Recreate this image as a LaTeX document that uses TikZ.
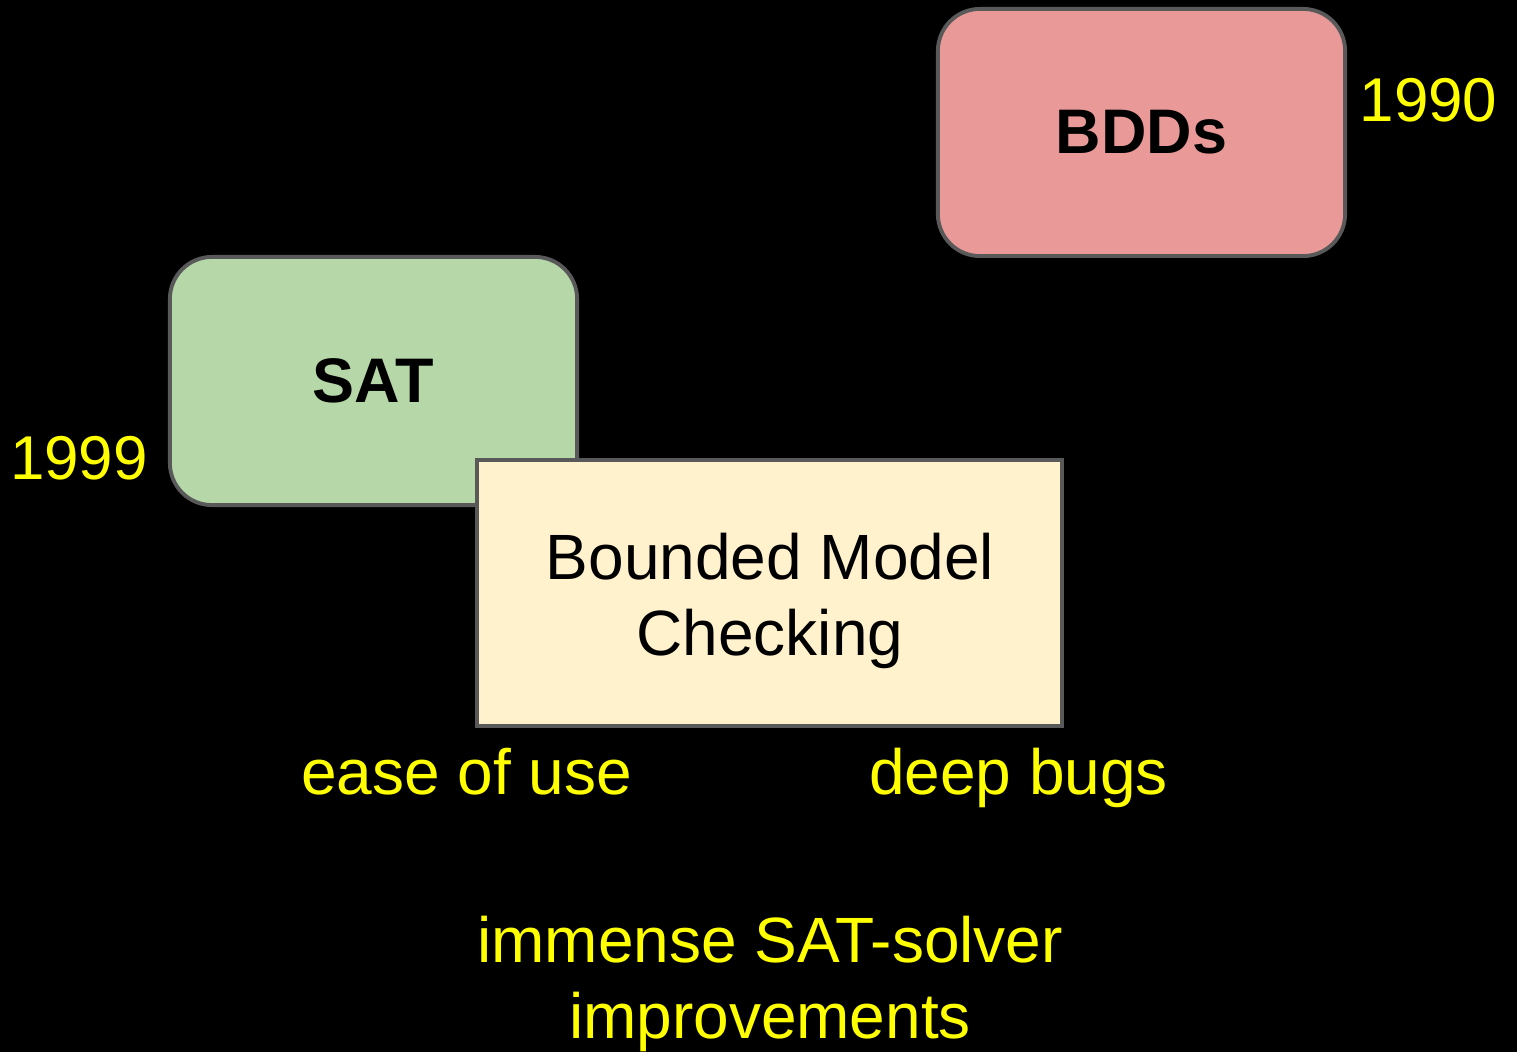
\documentclass[tikz,border=0pt]{standalone}
\usepackage{fontspec}
\setmainfont{Liberation Sans}
\definecolor{edgegray}{HTML}{595959}
\definecolor{bddfill}{HTML}{EA9999}
\definecolor{satfill}{HTML}{B6D7A8}
\definecolor{bmcfill}{HTML}{FFF2CC}
\definecolor{labelyellow}{HTML}{FFFF00}
\begin{document}
\begin{tikzpicture}[x=0.01cm,y=-0.01cm,
  every node/.style={inner sep=0pt,outer sep=0pt,
    font=\fontsize{18.2pt}{21.6pt}\selectfont},
  techbox/.style={draw=edgegray,line width=1.1pt,rounded corners=0.42cm,
    font=\fontsize{17.9pt}{21.6pt}\selectfont\bfseries},
  flatbox/.style={draw=edgegray,line width=1.1pt},
  yeartext/.style={text=labelyellow,font=\fontsize{17.6pt}{21.6pt}\selectfont},
  notetext/.style={text=labelyellow},
  bodytext/.style={text=black,align=center}]
  \fill[black] (0,0) rectangle (1517,1052);
  \useasboundingbox (0,0) rectangle (1517,1052);

  % technique boxes
  \node[techbox,fill=bddfill,minimum width=4.07cm,minimum height=2.47cm] (bdd) at (1141.5,132.5) {BDDs};
  \node[techbox,fill=satfill,minimum width=4.07cm,minimum height=2.48cm] (sat) at (373.5,381) {SAT};
  \node[flatbox,fill=bmcfill,minimum width=5.85cm,minimum height=2.66cm] (bmc) at (769.5,593) {};
  \node[bodytext] (bmctext) at (770,601) {Bounded Model\\Checking};

  % years
  \node[yeartext,anchor=base] (y1990) at (1428.5,122) {1990};
  \node[yeartext,anchor=base] (y1999) at (79,480) {1999};

  % qualities
  \node[notetext,anchor=base] (ease) at (466.5,795) {ease of use};
  \node[notetext,anchor=base] (deep) at (1018.5,795) {deep bugs};
  \node[notetext,align=center] (solver) at (770,984) {immense SAT-solver\\improvements};
\end{tikzpicture}
\end{document}
